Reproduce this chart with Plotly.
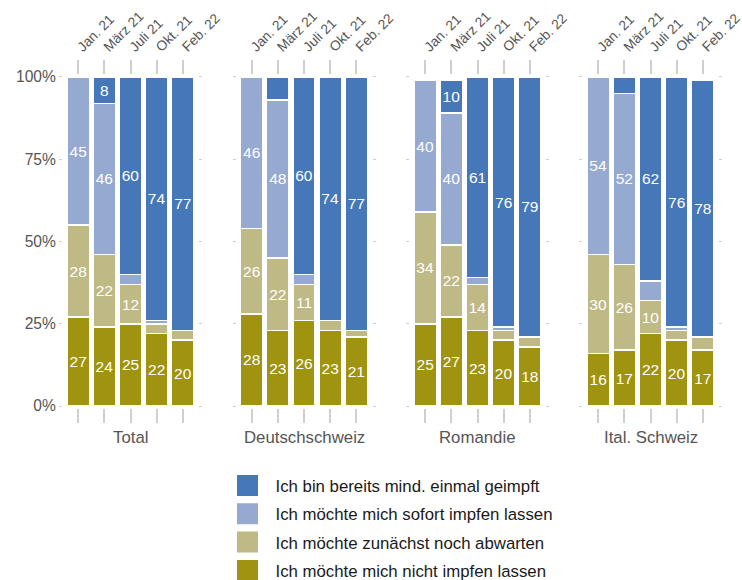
import plotly.graph_objects as go
from plotly.subplots import make_subplots

months = ["Jan. 21", "März 21", "Juli 21", "Okt. 21", "Feb. 22"]
regions = ["Total", "Deutschschweiz", "Romandie", "Ital. Schweiz"]

series_names = [
    "Ich möchte mich nicht impfen lassen",
    "Ich möchte zunächst noch abwarten",
    "Ich möchte mich sofort impfen lassen",
    "Ich bin bereits mind. einmal geimpft",
]
colors = ["#a0930f", "#bfb986", "#96a9d1", "#4677b8"]

nicht = {
    "Total": [27, 24, 25, 22, 20],
    "Deutschschweiz": [28, 23, 26, 23, 21],
    "Romandie": [25, 27, 23, 20, 18],
    "Ital. Schweiz": [16, 17, 22, 20, 17],
}
abwarten = {
    "Total": [28, 22, 12, 3, 3],
    "Deutschschweiz": [26, 22, 11, 3, 2],
    "Romandie": [34, 22, 14, 3, 3],
    "Ital. Schweiz": [30, 26, 10, 3, 4],
}
sofort = {
    "Total": [45, 46, 3, 1, 0],
    "Deutschschweiz": [46, 48, 3, 0, 0],
    "Romandie": [40, 40, 2, 1, 0],
    "Ital. Schweiz": [54, 52, 6, 1, 0],
}
geimpft = {
    "Total": [0, 8, 60, 74, 77],
    "Deutschschweiz": [0, 7, 60, 74, 77],
    "Romandie": [0, 10, 61, 76, 79],
    "Ital. Schweiz": [0, 5, 62, 76, 78],
}
series_data = [nicht, abwarten, sofort, geimpft]

y_ticks = [0, 25, 50, 75, 100]
y_ticktext = ["0%", "25%", "50%", "75%", "100%"]

W, H = 742, 580
FONT = "Liberation Sans, Arial, sans-serif"
TXT = "#555555"
GRID = "#cfcfcf"

fig = make_subplots(rows=1, cols=4)

for c, reg in enumerate(regions, start=1):
    for s, (name, data, col) in enumerate(zip(series_names, series_data, colors)):
        vals = data[reg]
        fig.add_trace(
            go.Bar(
                x=months,
                y=vals,
                name=name,
                marker=dict(color=col, line=dict(color="white", width=1.5)),
                text=[str(v) if v >= 8 else "" for v in vals],
                textposition="inside",
                insidetextanchor="middle",
                textangle=0,
                constraintext="none",
                textfont=dict(color="white", size=15.5, family=FONT),
                width=0.85,
                showlegend=False,
                hoverinfo="skip",
            ),
            row=1,
            col=c,
        )

# legend entries
for name, col in reversed(list(zip(series_names, colors))):
    fig.add_trace(
        go.Scatter(
            x=[None],
            y=[None],
            mode="markers",
            name=name,
            legendgroup=name,
            marker=dict(symbol="square", size=16, color=col, line=dict(color=col, width=5)),
            showlegend=True,
            hoverinfo="skip",
        ),
        row=1,
        col=1,
    )

lefts = [63, 236.5, 410, 583]
pw = 135
ydom = [1 - 408 / H, 1 - 75 / H]

layout = dict(
    width=W,
    height=H,
    margin=dict(l=0, r=0, t=0, b=0, autoexpand=False),
    paper_bgcolor="white",
    plot_bgcolor="white",
    barmode="stack",
    font=dict(family=FONT, color=TXT, size=15),
    legend=dict(
        x=219.5 / W,
        y=1 - 468 / H,
        xanchor="left",
        yanchor="top",
        traceorder="grouped",
        tracegroupgap=3.5,
        font=dict(size=16.8, color="#1a1a1a", family=FONT),
        bgcolor="rgba(0,0,0,0)",
        itemwidth=46,
    ),
)

for i, reg in enumerate(regions):
    suffix = "" if i == 0 else str(i + 1)
    layout["xaxis" + suffix] = dict(
        domain=[lefts[i] / W, (lefts[i] + pw) / W],
        range=[-0.58, 4.58],
        side="top",
        tickangle=-45,
        ticks="outside",
        ticklen=14,
        tickwidth=1.5,
        tickcolor=GRID,
        mirror="ticks",
        showline=False,
        showgrid=False,
        zeroline=False,
        tickfont=dict(size=13.8, color=TXT, family=FONT),
        automargin=False,
        fixedrange=True,
    )
    layout["yaxis" + suffix] = dict(
        domain=ydom,
        range=[-0.6, 100.6],
        tickvals=y_ticks,
        ticktext=y_ticktext,
        showticklabels=(i == 0),
        ticks="outside",
        ticklen=3,
        tickwidth=1,
        tickcolor=GRID,
        mirror="ticks",
        showline=False,
        showgrid=False,
        zeroline=False,
        tickfont=dict(size=15.6, color=TXT, family=FONT),
        automargin=False,
        fixedrange=True,
    )

fig.update_layout(**layout)

for i, reg in enumerate(regions):
    suffix = "" if i == 0 else str(i + 1)
    fig.add_annotation(
        text=reg,
        xref="x%s domain" % suffix,
        yref="paper",
        x=0.5,
        y=1 - 437 / H,
        xanchor="center",
        yanchor="middle",
        showarrow=False,
        font=dict(size=16.8, color=TXT, family=FONT),
    )

fig.write_html(
    "out.html",
    config={"displayModeBar": False},
    post_script="document.body.style.margin='0';document.body.style.overflow='hidden';",
)
